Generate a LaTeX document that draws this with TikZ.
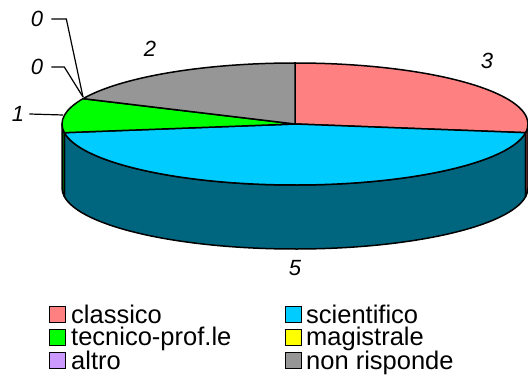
\documentclass[tikz,border=0pt]{standalone}
\usepackage{fontspec}
\setmainfont{Liberation Sans}
\usepackage{tikz}

\definecolor{classico}{HTML}{FF8080}
\definecolor{scientifico}{HTML}{00CCFF}
\definecolor{tecnico}{HTML}{00FF00}
\definecolor{magistrale}{HTML}{FFFF00}
\definecolor{altro}{HTML}{CC99FF}
\definecolor{nonrisp}{HTML}{969696}
\definecolor{classicoside}{HTML}{804040}
\definecolor{scientificoside}{HTML}{006680}
\definecolor{tecnicoside}{HTML}{008000}

\tikzset{
  lab/.style={inner sep=0pt, font=\fontsize{22}{22}\selectfont\itshape},
  key/.style={draw, line width=1.3pt, minimum size=16, inner sep=0pt, anchor=south west},
  keytext/.style={inner sep=0pt, anchor=base west, font=\fontsize{25.5}{25.5}\selectfont}
}

\begin{document}
\begin{tikzpicture}[x=1pt,y=1pt]%,line join=round]
\useasboundingbox (0,0) rectangle (528,378);

\begin{scope}[shift={(295,254)}, line width=1.5pt, line join=round]
% side of the pie
\filldraw[fill=scientificoside] (-171.82:233 and 61) arc[start angle=-171.82,end angle=-8.18,x radius=233,y radius=61]
  -- ++(0,-64) arc[start angle=-8.18,end angle=-171.82,x radius=233,y radius=61] -- cycle;
\filldraw[fill=classicoside] (-8.18:233 and 61) arc[start angle=-8.18,end angle=0,x radius=233,y radius=61]
  -- ++(0,-64) arc[start angle=0,end angle=-8.18,x radius=233,y radius=61] -- cycle;
\filldraw[fill=tecnicoside] (-180:233 and 61) arc[start angle=-180,end angle=-171.82,x radius=233,y radius=61]
  -- ++(0,-64) arc[start angle=-171.82,end angle=-180,x radius=233,y radius=61] -- cycle;

% top of the pie
\filldraw[fill=classico] (0,0) -- (90:233 and 61) arc[start angle=90,end angle=-8.18,x radius=233,y radius=61] -- cycle;
\filldraw[fill=scientifico] (0,0) -- (-8.18:233 and 61) arc[start angle=-8.18,end angle=-171.82,x radius=233,y radius=61] -- cycle;
\filldraw[fill=tecnico] (0,0) -- (-171.82:233 and 61) arc[start angle=-171.82,end angle=-204.55,x radius=233,y radius=61] -- cycle;
\filldraw[fill=nonrisp] (0,0) -- (155.45:233 and 61) arc[start angle=155.45,end angle=90,x radius=233,y radius=61] -- cycle;
\end{scope}

% values
\node[lab] (vclassico) at (487,317) {3};
\node[lab] (vnonrisp) at (150,329) {2};
\node[lab] (vscientifico) at (295,110) {5};
\node[lab] (vtecnico) at (18,264) {1};
\node[lab] (valtro) at (37,359) {0};
\node[lab] (vmagistrale) at (37,311) {0};

\coordinate (ptecnico) at (63,263);
\coordinate (pzero) at (83,281);
\draw[line width=1.2pt] ([xshift=5]vtecnico.east) -- (ptecnico);
\draw[line width=1.2pt] ([xshift=8]valtro.east) -- ++(15,0) -- (pzero);
\draw[line width=1.2pt] ([xshift=8]vmagistrale.east) -- ++(13,0) -- (pzero);

% legend
\node[key, fill=classico] (kclassico) at (49,55) {};
\node[keytext] (tclassico) at (71,55) {classico};
\node[key, fill=tecnico] (ktecnico) at (49,32) {};
\node[keytext] (ttecnico) at (71,32) {tecnico-prof.le};
\node[key, fill=altro] (kaltro) at (49,9) {};
\node[keytext] (taltro) at (71,9) {altro};
\node[key, fill=scientifico] (kscientifico) at (285,55) {};
\node[keytext] (tscientifico) at (306,55) {scientifico};
\node[key, fill=magistrale] (kmagistrale) at (285,32) {};
\node[keytext] (tmagistrale) at (306,32) {magistrale};
\node[key, fill=nonrisp] (knonrisp) at (285,9) {};
\node[keytext] (tnonrisp) at (306,9) {non risponde};

\end{tikzpicture}
\end{document}
